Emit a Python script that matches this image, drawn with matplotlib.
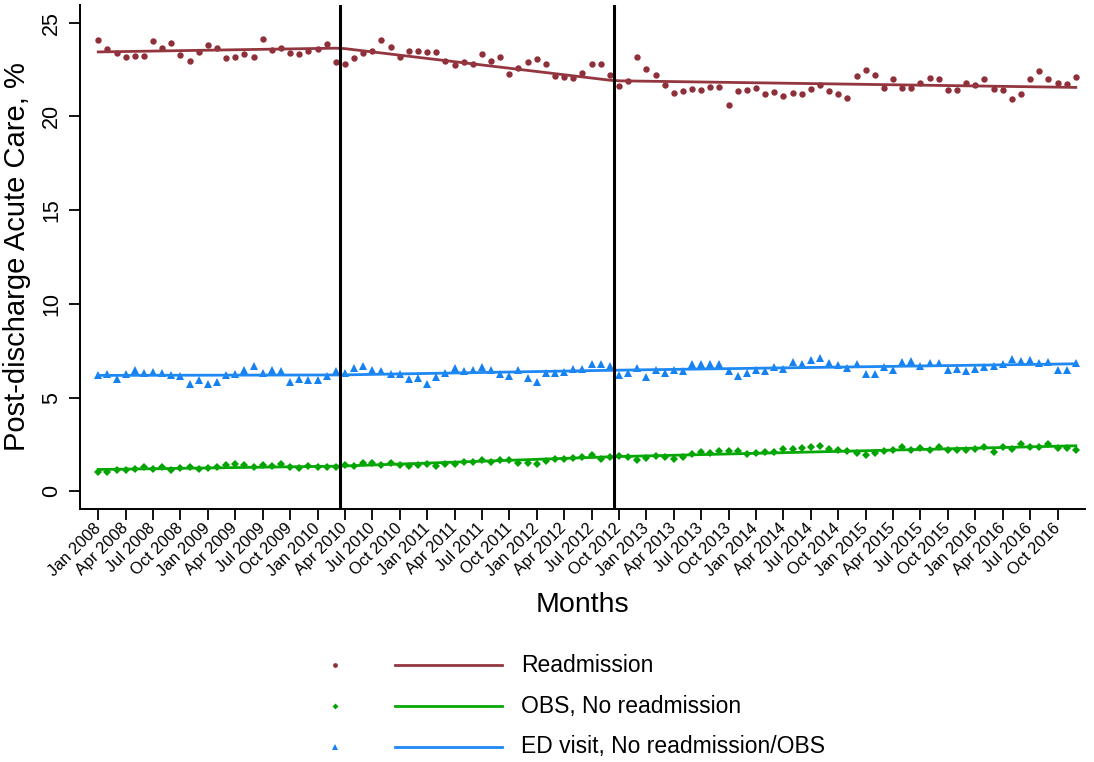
import numpy as np
import matplotlib
matplotlib.use("Agg")
import matplotlib.pyplot as plt
from matplotlib.lines import Line2D

plt.rcParams['font.family'] = ['Liberation Sans', 'DejaVu Sans']

# monthly rates, Jan 2008 .. Dec 2016
readmission = [
    24.10, 23.62, 23.37, 23.17, 23.22, 23.22, 24.02, 23.63, 23.92, 23.26, 22.97, 23.44,
    23.79, 23.67, 23.12, 23.17, 23.31, 23.19, 24.13, 23.54, 23.67, 23.38, 23.31, 23.47,
    23.60, 23.86, 22.92, 22.78, 23.12, 23.38, 23.51, 24.06, 23.70, 23.19, 23.49, 23.47,
    23.42, 23.42, 22.97, 22.76, 22.92, 22.80, 23.33, 22.97, 23.17, 22.28, 22.60, 22.90,
    23.08, 22.82, 22.14, 22.12, 22.03, 22.34, 22.82, 22.78, 22.19, 21.64, 21.89, 23.15,
    22.51, 22.19, 21.66, 21.23, 21.38, 21.45, 21.41, 21.57, 21.59, 20.61, 21.36, 21.43,
    21.54, 21.18, 21.31, 21.11, 21.25, 21.18, 21.45, 21.66, 21.36, 21.22, 20.97, 22.16,
    22.48, 22.21, 21.54, 22.02, 21.50, 21.54, 21.80, 22.05, 22.00, 21.43, 21.39, 21.80,
    21.70, 21.97, 21.45, 21.41, 20.95, 21.22, 21.98, 22.41, 21.97, 21.80, 21.73, 22.12,
]
obs_no_readm = [
    1.03, 1.05, 1.12, 1.12, 1.21, 1.30, 1.21, 1.28, 1.14, 1.25, 1.28, 1.19,
    1.25, 1.28, 1.41, 1.46, 1.39, 1.30, 1.39, 1.33, 1.46, 1.32, 1.23, 1.37,
    1.32, 1.32, 1.28, 1.39, 1.37, 1.53, 1.53, 1.41, 1.51, 1.39, 1.37, 1.42,
    1.48, 1.33, 1.46, 1.46, 1.55, 1.55, 1.65, 1.58, 1.69, 1.65, 1.53, 1.51,
    1.48, 1.60, 1.71, 1.73, 1.78, 1.83, 1.94, 1.74, 1.82, 1.89, 1.86, 1.67,
    1.78, 1.90, 1.85, 1.73, 1.85, 2.01, 2.10, 2.05, 2.17, 2.17, 2.15, 2.01,
    2.05, 2.12, 2.08, 2.24, 2.28, 2.33, 2.38, 2.40, 2.28, 2.19, 2.17, 2.05,
    1.96, 2.06, 2.17, 2.22, 2.35, 2.21, 2.29, 2.19, 2.35, 2.22, 2.19, 2.21,
    2.26, 2.36, 2.10, 2.38, 2.28, 2.51, 2.36, 2.36, 2.51, 2.29, 2.31, 2.22,
]
ed_visit = [
    6.20, 6.27, 6.01, 6.27, 6.47, 6.33, 6.38, 6.31, 6.20, 6.18, 5.71, 5.95,
    5.74, 5.85, 6.20, 6.27, 6.47, 6.70, 6.34, 6.45, 6.40, 5.81, 6.01, 5.92,
    5.95, 6.13, 6.40, 6.29, 6.56, 6.70, 6.49, 6.42, 6.26, 6.24, 6.02, 6.06,
    5.72, 6.08, 6.29, 6.59, 6.43, 6.47, 6.65, 6.49, 6.24, 6.13, 6.49, 6.06,
    5.81, 6.31, 6.29, 6.36, 6.54, 6.54, 6.82, 6.77, 6.68, 6.20, 6.29, 6.59,
    6.08, 6.49, 6.33, 6.45, 6.42, 6.81, 6.77, 6.79, 6.81, 6.40, 6.18, 6.29,
    6.45, 6.40, 6.65, 6.54, 6.88, 6.79, 7.02, 7.11, 6.84, 6.72, 6.56, 6.77,
    6.24, 6.24, 6.65, 6.49, 6.88, 6.98, 6.68, 6.84, 6.84, 6.49, 6.54, 6.40,
    6.52, 6.65, 6.70, 6.81, 7.04, 6.98, 7.00, 6.84, 6.90, 6.50, 6.45, 6.84,
]
start_year = 2008
policy_breaks = [26.5, 56.5]  # between Mar/Apr 2010 and Sep/Oct 2012
month_names = ['Jan', 'Apr', 'Jul', 'Oct']

series = [
    ("Readmission", readmission, 'o', 4.6, '#8e2f3a', '#94363f'),
    ("OBS, No readmission", obs_no_readm, 'D', 4.0, '#00a300', '#05a805'),
    ("ED visit, No readmission/OBS", ed_visit, '^', 5.6, '#1682f2', '#1e88f5'),
]

months = np.arange(len(readmission))


def segmented_fit(x, y, knots):
    # continuous piecewise-linear regression with knots at the breaks
    cols = [np.ones_like(x, dtype=float), x.astype(float)]
    cols += [np.clip(x - k, 0, None) for k in knots]
    X = np.column_stack(cols)
    beta, *_ = np.linalg.lstsq(X, np.asarray(y), rcond=None)
    return X @ beta


fig = plt.figure(figsize=(10.94, 7.62), dpi=100)
ax = fig.add_axes([0.0731, 0.332, 0.9186, 0.6614])

for label, vals, mk, ms, mcol, lcol in series:
    ax.plot(months, vals, linestyle='none', marker=mk, ms=ms, color=mcol,
            markeredgewidth=0, zorder=2)
    ax.plot(months, segmented_fit(months, vals, policy_breaks), color=lcol,
            lw=2.0, zorder=3)

for b in policy_breaks:
    ax.axvline(b, color='black', lw=2.2, zorder=4)

ax.set_xlim(-2, 108)
ax.set_ylim(-0.94, 25.94)

tick_pos = np.arange(0, len(months) - 2, 3)
tick_lab = [f"{month_names[(p % 12) // 3]} {start_year + p // 12}" for p in tick_pos]
ax.set_xticks(tick_pos)
ax.set_xticklabels(tick_lab, rotation=45, ha='right', va='center',
                   rotation_mode='anchor', fontsize=11.8)
ax.set_yticks([0, 5, 10, 15, 20, 25])
ax.tick_params(axis='y', labelrotation=90, labelsize=15.5, length=8, width=1.3, pad=5)
ax.tick_params(axis='x', length=8, width=1.3, pad=4)
for lab in ax.get_yticklabels():
    lab.set_va('center')

for side in ['top', 'right']:
    ax.spines[side].set_visible(False)
for side in ['left', 'bottom']:
    ax.spines[side].set_linewidth(1.4)

ax.set_xlabel("Months", fontsize=20.5, va='center')
ax.xaxis.set_label_coords(0.5, -0.19)
ax.set_ylabel("Post-discharge Acute Care, %", fontsize=21, va='center')
ax.yaxis.set_label_coords(-0.063, 0.50)

# legend: marker key, line key, label
row_y = [1 - 665 / 762, 1 - 706 / 762, 1 - 747 / 762]
for (label, vals, mk, ms, mcol, lcol), yy in zip(series, row_y):
    fig.add_artist(Line2D([335 / 1094], [yy], marker=mk, ms=ms * 0.75, color=mcol,
                          markeredgewidth=0, linestyle='none'))
    fig.add_artist(Line2D([395 / 1094, 502 / 1094], [yy, yy], color=lcol, lw=2.0))
    fig.text(521 / 1094, yy, label, fontsize=16.5, va='center', ha='left')

fig.savefig("out.png", dpi=100)
